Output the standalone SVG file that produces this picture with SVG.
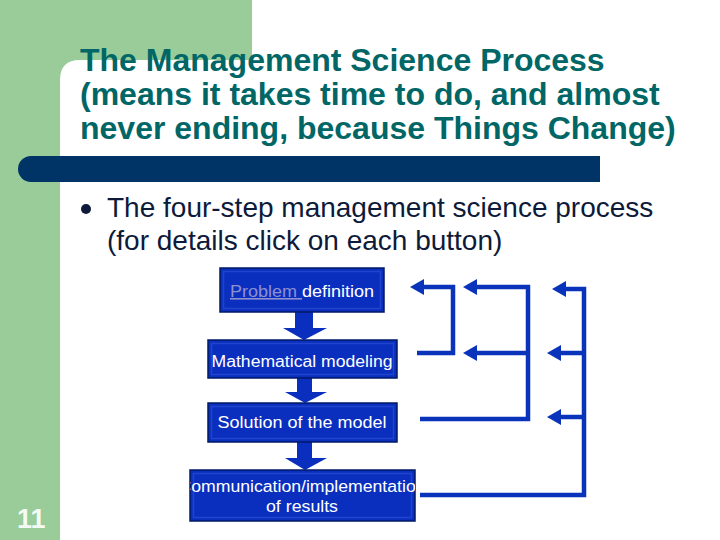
<svg xmlns="http://www.w3.org/2000/svg" width="720" height="540" viewBox="0 0 720 540">
<defs>
<style>
.title{font-family:"Liberation Sans",Arial,sans-serif;font-weight:bold;font-size:32px;fill:#006666}
.body{font-family:"Liberation Sans",Arial,sans-serif;font-size:28px;fill:#0d1a3a}
.btn{fill:#0a2fbf;stroke:#001a66;stroke-width:1.5}
.bev{fill:none;stroke:#2244cc;stroke-width:1.5}
.lbl{font-family:"Liberation Sans",Arial,sans-serif;font-size:16px;fill:#ffffff;text-anchor:middle}
.link{fill:#8f8fd0;text-decoration:underline}
.down{fill:#0a2fbf}
.fb{fill:none;stroke:#0a33bb;stroke-width:4.5}
</style>
<marker id="ah" markerWidth="14" markerHeight="16" refX="4" refY="8" orient="auto" markerUnits="userSpaceOnUse">
<path d="M0,0 L14,8 L0,16 Z" fill="#0a33bb"/>
</marker>
<clipPath id="c4"><rect x="190" y="470" width="225" height="51"/></clipPath>
</defs>
<rect width="720" height="540" fill="#ffffff"/>
<path d="M0,0 H252 V60 H80 Q60,60 60,80 V540 H0 Z" fill="#99cc99"/>
<text class="title" x="80" y="71">The Management Science Process</text>
<text class="title" x="80" y="105">(means it takes time to do, and almost</text>
<text class="title" x="80" y="139">never ending, because Things Change)</text>
<path d="M31,156 H600 V182 H31 A13,13 0 0 1 31,156 Z" fill="#003366"/>
<circle cx="86" cy="209" r="5" fill="#0d1a3a"/>
<text class="body" x="107" y="217">The four-step management science process</text>
<text class="body" x="107" y="250">(for details click on each button)</text>
<g id="connectors">
<path class="down" d="M295,312 H313 V328 H327 L304,340 L283,328 H295 Z"/>
<path class="down" d="M297,378 H312 V392 H327 L305,403 L285,392 H297 Z"/>
<path class="down" d="M297,442 H312 V458 H327 L305,470 L285,458 H297 Z"/>
<polyline class="fb" points="417,353 453,353 453,287 420,287" marker-end="url(#ah)"/>
<polyline class="fb" points="420,419 528,419 528,287 473,287" marker-end="url(#ah)"/>
<line class="fb" x1="528" y1="353" x2="473" y2="353" marker-end="url(#ah)"/>
<polyline class="fb" points="420,495 584,495 584,289 562,289" marker-end="url(#ah)"/>
<line class="fb" x1="584" y1="353" x2="557" y2="353" marker-end="url(#ah)"/>
<line class="fb" x1="584" y1="417" x2="557" y2="417" marker-end="url(#ah)"/>
</g>
<g id="n1">
<rect class="btn" x="220" y="268" width="164" height="44"/>
<rect class="bev" x="223.5" y="271.5" width="157" height="37"/>
<text class="lbl" x="302" y="297" textLength="144" lengthAdjust="spacingAndGlyphs"><tspan class="link">Problem </tspan>definition</text>
</g>
<g id="n2">
<rect class="btn" x="208" y="340" width="189" height="38"/>
<rect class="bev" x="211.5" y="343.5" width="182" height="31"/>
<text class="lbl" x="302" y="367" textLength="181" lengthAdjust="spacingAndGlyphs">Mathematical modeling</text>
</g>
<g id="n3">
<rect class="btn" x="208" y="403" width="189" height="39"/>
<rect class="bev" x="211.5" y="406.5" width="182" height="32"/>
<text class="lbl" x="302" y="428" textLength="169" lengthAdjust="spacingAndGlyphs">Solution of the model</text>
</g>
<g id="n4">
<rect class="btn" x="190" y="470" width="225" height="51"/>
<rect class="bev" x="193.5" y="473.5" width="218" height="44"/>
<g clip-path="url(#c4)">
<text class="lbl" x="302" y="492" textLength="247" lengthAdjust="spacingAndGlyphs">Communication/implementation</text>
<text class="lbl" x="302" y="512" textLength="72" lengthAdjust="spacingAndGlyphs">of results</text>
</g>
</g>
<text x="17" y="528" font-family="Liberation Sans,Arial,sans-serif" font-weight="bold" font-size="27" fill="#f4faf4">11</text>
</svg>
